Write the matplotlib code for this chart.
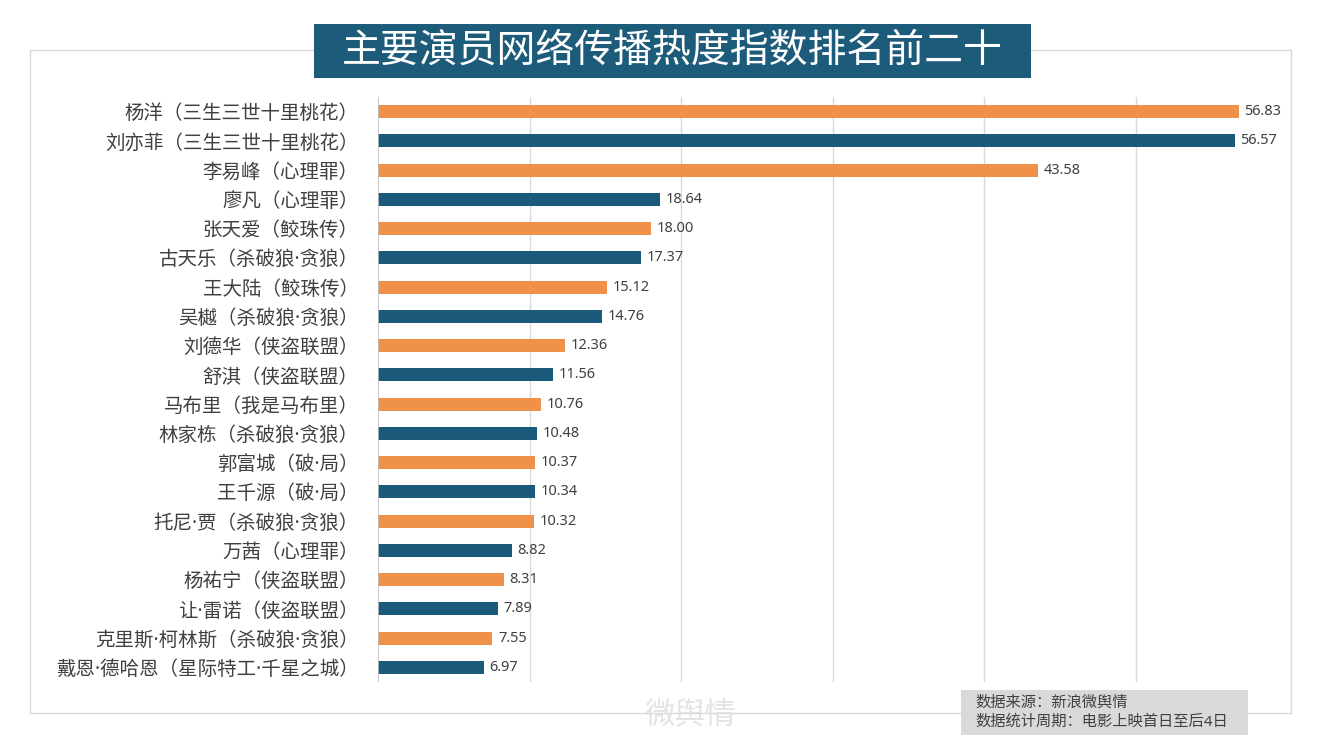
import matplotlib.pyplot as plt
from matplotlib.patches import Rectangle

plt.rcParams['font.family'] = ['Noto Sans', 'Noto Sans CJK SC', 'DejaVu Sans']

names = ['杨洋（三生三世十里桃花）', '刘亦菲（三生三世十里桃花）', '李易峰（心理罪）',
         '廖凡（心理罪）', '张天爱（鲛珠传）', '古天乐（杀破狼·贪狼）', '王大陆（鲛珠传）',
         '吴樾（杀破狼·贪狼）', '刘德华（侠盗联盟）', '舒淇（侠盗联盟）', '马布里（我是马布里）',
         '林家栋（杀破狼·贪狼）', '郭富城（破·局）', '王千源（破·局）', '托尼·贾（杀破狼·贪狼）',
         '万茜（心理罪）', '杨祐宁（侠盗联盟）', '让·雷诺（侠盗联盟）',
         '克里斯·柯林斯（杀破狼·贪狼）', '戴恩·德哈恩（星际特工·千星之城）']
values = [56.83, 56.57, 43.58, 18.64, 18.00, 17.37, 15.12, 14.76, 12.36, 11.56,
          10.76, 10.48, 10.37, 10.34, 10.32, 8.82, 8.31, 7.89, 7.55, 6.97]
title = '主要演员网络传播热度指数排名前二十'
note = ['数据来源：新浪微舆情', '数据统计周期：电影上映首日至后4日']

orange = '#F0914A'
blue = '#1B5A7A'
colors = [orange if i % 2 == 0 else blue for i in range(len(values))]

W, H = 1323, 747
fig = plt.figure(figsize=(W / 100, H / 100), dpi=100)

# outer frame
fig.patches.append(Rectangle((30 / W, 1 - 713 / H), 1261 / W, 663 / H,
                             transform=fig.transFigure, fill=False,
                             edgecolor='#D9D9D9', lw=1, zorder=0))

ax = fig.add_axes([378 / W, 1 - 682 / H, (1287 - 378) / W, (682 - 97) / H])
y = list(range(len(values)))
ax.barh(y, values, height=0.45, color=colors, zorder=2)
ax.set_ylim(len(values) - 0.5, -0.5)
ax.set_xlim(0, 60)
for x in [10, 20, 30, 40, 50]:
    ax.axvline(x, color='#D9D9D9', lw=1, zorder=1)
ax.axvline(0, color='#BFBFBF', lw=1.2, zorder=3)
for s in ax.spines.values():
    s.set_visible(False)
ax.set_xticks([])
ax.set_yticks(y)
ax.set_yticklabels(names, fontsize=14, color='#404040')
ax.tick_params(axis='y', length=0, pad=14)
for yi, v in zip(y, values):
    ax.annotate(f'{v:.2f}', (v, yi), xytext=(4, 0), textcoords='offset points',
                va='center', ha='left', fontsize=10.5, color='#404040')

# title box
fig.patches.append(Rectangle((314 / W, 1 - 78 / H), 717 / W, 54 / H,
                             transform=fig.transFigure, fc='#1D5B7A', ec='none'))
fig.text(672 / W, 1 - 52 / H, title, ha='center', va='center', fontsize=28,
         color='white', fontweight='medium')

# watermark
fig.text(690 / W, 1 - 715 / H, '微舆情', ha='center', va='center', fontsize=22,
         color='#DDDDDD', alpha=0.8)

# source note
fig.patches.append(Rectangle((961 / W, 1 - 735 / H), 287 / W, 45 / H,
                             transform=fig.transFigure, fc='#D9D9D9', ec='none'))
fig.text(975 / W, 1 - 703 / H, note[0], fontsize=11, color='#404040', va='center')
fig.text(975 / W, 1 - 722 / H, note[1], fontsize=11, color='#404040', va='center')

fig.savefig('out.png', dpi=100)
